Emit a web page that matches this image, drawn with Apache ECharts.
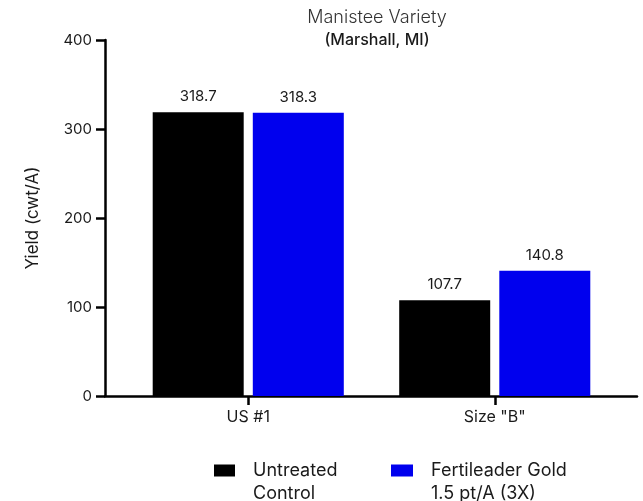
<!DOCTYPE html>
<html>
<head>
<meta charset="utf-8">
<script src="https://cdn.jsdelivr.net/npm/echarts@6/dist/echarts.min.js"></script>
<style>
    html, body {margin: 0; padding: 0; background: #fff;}
    #chart {width: 643px; height: 501px;}
</style>
</head>
<body>
<div id="chart"></div>
<script>
    // 数据
    var categories = ['US #1', 'Size "B"'];
    var seriesNames = ['Untreated\nControl', 'Fertileader Gold\n1.5 pt/A (3X)'];
    var untreated = [318.7, 107.7];
    var fertileader = [318.3, 140.8];
    var yTicks = [0, 100, 200, 300, 400];

    var FONT = 'Inter';
    var TEXT = '#1a1a1a';

    var dom = document.getElementById('chart');
    var myChart = echarts.init(dom);

    var labelStyle = {
        show: true,
        position: 'top',
        distance: 8,
        fontFamily: FONT,
        fontSize: 15,
        color: TEXT
    };

    var legendText = {
        fontFamily: FONT,
        fontSize: 18,
        color: TEXT,
        lineHeight: 23,
        padding: [0, 0, 0, 13]
    };

    // 图例文字首行与色块对齐：前面补一个空行
    var legendFormatter = function (name) {
        return '\n' + name;
    };

    option = {
        animation: false,
        title: {
            text: 'Manistee Variety',
            subtext: '(Marshall, MI)',
            left: 372,
            top: 4,
            textAlign: 'center',
            itemGap: 5,
            textStyle: {fontFamily: FONT, fontSize: 18, fontWeight: 300, color: '#333'},
            subtextStyle: {fontFamily: FONT, fontSize: 16, fontWeight: 500, color: TEXT}
        },
        legend: [
            {
                data: [seriesNames[0]],
                left: 214, top: 436, padding: 0,
                itemWidth: 21, itemHeight: 12,
                icon: 'rect',
                formatter: legendFormatter,
                textStyle: legendText
            },
            {
                data: [seriesNames[1]],
                left: 391, top: 436, padding: 0,
                itemWidth: 22, itemHeight: 12,
                icon: 'rect',
                formatter: legendFormatter,
                textStyle: legendText
            }
        ],
        grid: [
            {left: 105, right: 6, top: 40, bottom: 105},
            {left: 125, right: 25, top: 40, bottom: 105}
        ],
        xAxis: [
            {
                // 只画轴线
                type: 'value', gridIndex: 0, min: 0, max: 1,
                axisLine: {show: true, onZero: false, lineStyle: {color: '#000', width: 2.5}},
                axisTick: {show: false}, axisLabel: {show: false}, splitLine: {show: false}
            },
            {
                type: 'category', gridIndex: 1, data: categories,
                axisLine: {show: false},
                axisTick: {show: true, alignWithLabel: true, length: 9, lineStyle: {color: '#000', width: 2.5}},
                axisLabel: {margin: 13, fontFamily: FONT, fontSize: 16, color: TEXT}
            }
        ],
        yAxis: [
            {
                type: 'value', gridIndex: 0,
                min: yTicks[0], max: yTicks[yTicks.length - 1], interval: 100,
                name: 'Yield (cwt/A)',
                nameLocation: 'middle',
                nameGap: 64,
                nameTextStyle: {fontFamily: FONT, fontSize: 17, color: TEXT},
                axisLine: {show: true, lineStyle: {color: '#000', width: 2.5}},
                axisTick: {show: true, length: 9, lineStyle: {color: '#000', width: 2.5}},
                axisLabel: {margin: 13, fontFamily: FONT, fontSize: 15, color: TEXT},
                splitLine: {show: false}
            },
            {
                type: 'value', gridIndex: 1,
                min: yTicks[0], max: yTicks[yTicks.length - 1], interval: 100,
                show: false
            }
        ],
        series: [
            {
                name: seriesNames[0],
                type: 'bar',
                xAxisIndex: 1, yAxisIndex: 1,
                data: untreated,
                barWidth: 91,
                barGap: '10%',
                itemStyle: {color: '#000000'},
                label: labelStyle
            },
            {
                name: seriesNames[1],
                type: 'bar',
                xAxisIndex: 1, yAxisIndex: 1,
                data: fertileader,
                barWidth: 91,
                barGap: '10%',
                itemStyle: {color: '#0000ee'},
                label: labelStyle
            }
        ]
    };
    myChart.setOption(option);
</script>
</body>
</html>
